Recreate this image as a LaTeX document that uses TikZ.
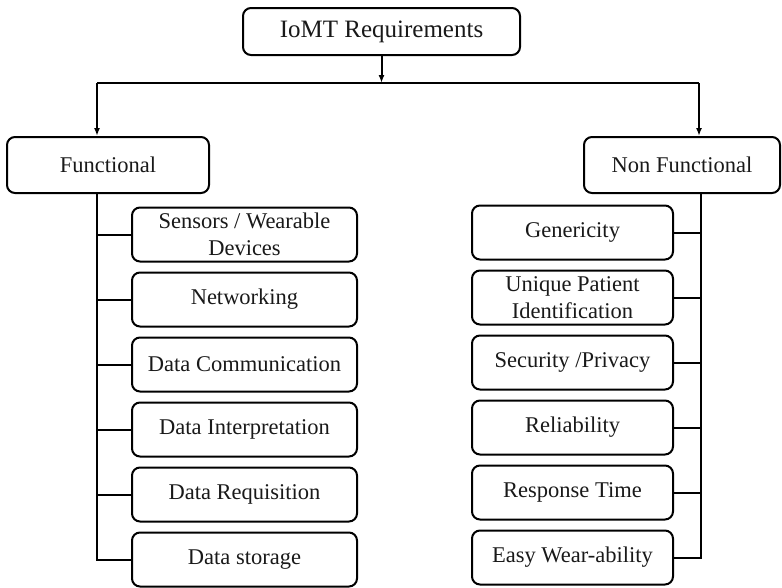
\documentclass[tikz,border=0pt]{standalone}
\usepackage{fontspec}
\setmainfont{Liberation Serif}
\usetikzlibrary{arrows.meta}
\begin{document}
\begin{tikzpicture}[x=1pt,y=-1pt,
  box/.style={draw,line width=2pt,rounded corners=8pt,align=center,inner sep=2pt,
    font=\fontsize{22.5}{27}\selectfont,text=black!90},
  leftitem/.style={box,minimum width=225pt,minimum height=54pt},
  rightitem/.style={box,minimum width=201pt,minimum height=54pt},
  link/.style={line width=2pt},
  arr/.style={link,-{Latex[length=8pt,width=6pt]}}]
\useasboundingbox (0,0) rectangle (782,587);

% root and the two categories
\node[box,minimum width=277pt,minimum height=47pt,font=\fontsize{25}{27}\selectfont] (root) at (381.5,31.5) {IoMT Requirements};
\node[box,minimum width=202pt,minimum height=56pt] (func) at (108,165) {Functional};
\node[box,minimum width=196pt,minimum height=56pt] (nonf) at (682,165) {Non Functional};

% functional requirements
\node[leftitem] (f1) at (244.5,234.5) {Sensors / Wearable\\Devices};
\node[leftitem] (f2) at (244.5,299.5) {Networking};
\node[leftitem] (f3) at (244.5,364.5) {Data Communication};
\node[leftitem] (f4) at (244.5,429.5) {Data Interpretation};
\node[leftitem] (f5) at (244.5,494.5) {Data Requisition};
\node[leftitem] (f6) at (244.5,559.5) {Data storage};

% non-functional requirements
\node[rightitem] (n1) at (572.5,232.5) {Genericity};
\node[rightitem] (n2) at (572.5,297.5) {Unique Patient\\Identification};
\node[rightitem] (n3) at (572.5,362.5) {Security /Privacy};
\node[rightitem] (n4) at (572.5,427.5) {Reliability};
\node[rightitem] (n5) at (572.5,492.5) {Response Time};
\node[rightitem] (n6) at (572.5,557.5) {Easy Wear-ability};

% split below the root
\coordinate (mid) at (381.5,83);
\coordinate (lj) at (97,83);
\coordinate (rj) at (699,83);
\draw[arr] (root.south) -- (mid);
\draw[link] (lj) -- (rj);
\draw[arr] (lj) -- (lj |- func.north);
\draw[arr] (rj) -- (rj |- nonf.north);

% left trunk
\coordinate (lt) at (97,193);
\draw[link] (lt) -- (97,0 |- f6.west) -- (f6.west);
\foreach \n in {f1,f2,f3,f4,f5}
  \draw[link] (97,0 |- \n.west) -- (\n.west);

% right trunk
\coordinate (rt) at (701,193);
\draw[link] (rt) -- (701,0 |- n6.east) -- (n6.east);
\foreach \n in {n1,n2,n3,n4,n5}
  \draw[link] (701,0 |- \n.east) -- (\n.east);
\end{tikzpicture}
\end{document}
